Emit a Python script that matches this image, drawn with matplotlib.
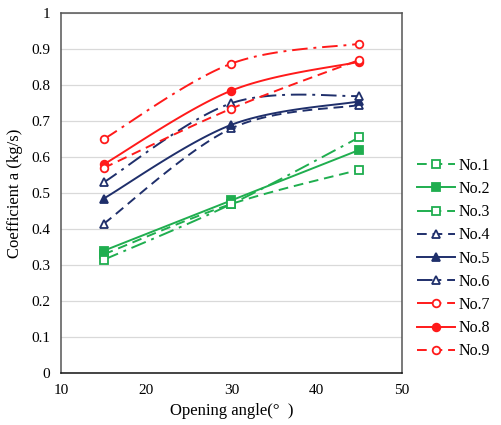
import numpy as np
import matplotlib
matplotlib.use("Agg")
import matplotlib.pyplot as plt

plt.rcParams["font.family"] = ["Liberation Serif", "DejaVu Serif"]

angles = [15, 30, 45]
labels = ["No.1", "No.2", "No.3", "No.4", "No.5", "No.6", "No.7", "No.8", "No.9"]
no1 = [0.330, 0.470, 0.565]
no2 = [0.340, 0.480, 0.620]
no3 = [0.315, 0.470, 0.655]
no4 = [0.415, 0.680, 0.745]
no5 = [0.485, 0.690, 0.755]
no6 = [0.530, 0.750, 0.770]
no7 = [0.650, 0.860, 0.915]
no8 = [0.580, 0.785, 0.865]
no9 = [0.570, 0.735, 0.870]
series = [no1, no2, no3, no4, no5, no6, no7, no8, no9]

GREEN = "#1fae4f"
NAVY = "#1f2f6b"
RED = "#ff1a1a"
estilos = [
    (GREEN, (0, (5, 3)), "s", "white"),
    (GREEN, "-", "s", GREEN),
    (GREEN, (0, (8, 3, 1.5, 3)), "s", "white"),
    (NAVY, (0, (5, 3)), "^", "white"),
    (NAVY, "-", "^", NAVY),
    (NAVY, (0, (8, 3, 1.5, 3)), "^", "white"),
    (RED, (0, (8, 3, 1.5, 3)), "o", "white"),
    (RED, "-", "o", RED),
    (RED, (0, (5, 3)), "o", "white"),
]


def suavizar(x, y, n=40):
    # curva suave tipo Excel (Catmull-Rom) entre los puntos
    x = np.asarray(x, float)
    y = np.asarray(y, float)
    px = np.concatenate([[x[0]], x, [x[-1]]])
    py = np.concatenate([[y[0]], y, [y[-1]]])
    xs, ys = [], []
    for i in range(1, len(px) - 2):
        p0, p1, p2, p3 = [np.array([px[k], py[k]]) for k in range(i - 1, i + 3)]
        c1 = p1 + (p2 - p0) / 6
        c2 = p2 - (p3 - p1) / 6
        t = np.linspace(0, 1, n)[:, None]
        b = ((1 - t) ** 3) * p1 + 3 * ((1 - t) ** 2) * t * c1 + 3 * (1 - t) * t ** 2 * c2 + t ** 3 * p2
        xs.extend(b[:, 0])
        ys.extend(b[:, 1])
    return xs, ys


fig = plt.figure(figsize=(5.01, 4.25), dpi=100)
ax = fig.add_axes([0.122, 0.122, 0.68, 0.847])

MS = 5.5
handles = []
for vals, lab, (color, ls, mk, fc) in zip(series, labels, estilos):
    sx, sy = suavizar(angles, vals)
    ax.plot(sx, sy, color=color, linestyle=ls, linewidth=1.4)
    ax.plot(angles, vals, linestyle="none", marker=mk, markersize=MS,
            markerfacecolor=fc, markeredgecolor=color, markeredgewidth=1.3)
    h, = ax.plot([], [], color=color, linestyle=ls, linewidth=1.4, marker=mk,
                 markersize=MS, markerfacecolor=fc, markeredgecolor=color,
                 markeredgewidth=1.3, label=lab)
    handles.append(h)

ax.set_xlim(10, 50)
ax.set_ylim(0, 1)
ax.set_xticks(range(10, 51, 10))
ax.set_yticks(np.arange(0, 1.01, 0.1))
ax.set_yticklabels(["0", "0.1", "0.2", "0.3", "0.4", "0.5", "0.6", "0.7", "0.8", "0.9", "1"])
ax.grid(axis="y", color="#d9d9d9", linewidth=0.9)
ax.set_axisbelow(True)
ax.tick_params(length=0, labelsize=11, pad=8)
for spine in ax.spines.values():
    spine.set_color("#555555")
    spine.set_linewidth(1.1)
ax.spines["bottom"].set_color("#111111")

ax.set_xlabel("Opening angle(°  )", fontsize=12, labelpad=4)
ax.set_ylabel("Coefficient a (kg/s)", fontsize=12, labelpad=6)

fig.legend(handles=handles, loc="upper left", bbox_to_anchor=(0.81, 0.655),
           frameon=False, fontsize=11.5, handlelength=2.4, handletextpad=0.2,
           labelspacing=0.45, borderpad=0.2)

fig.savefig("out.png", dpi=100, facecolor="white")
